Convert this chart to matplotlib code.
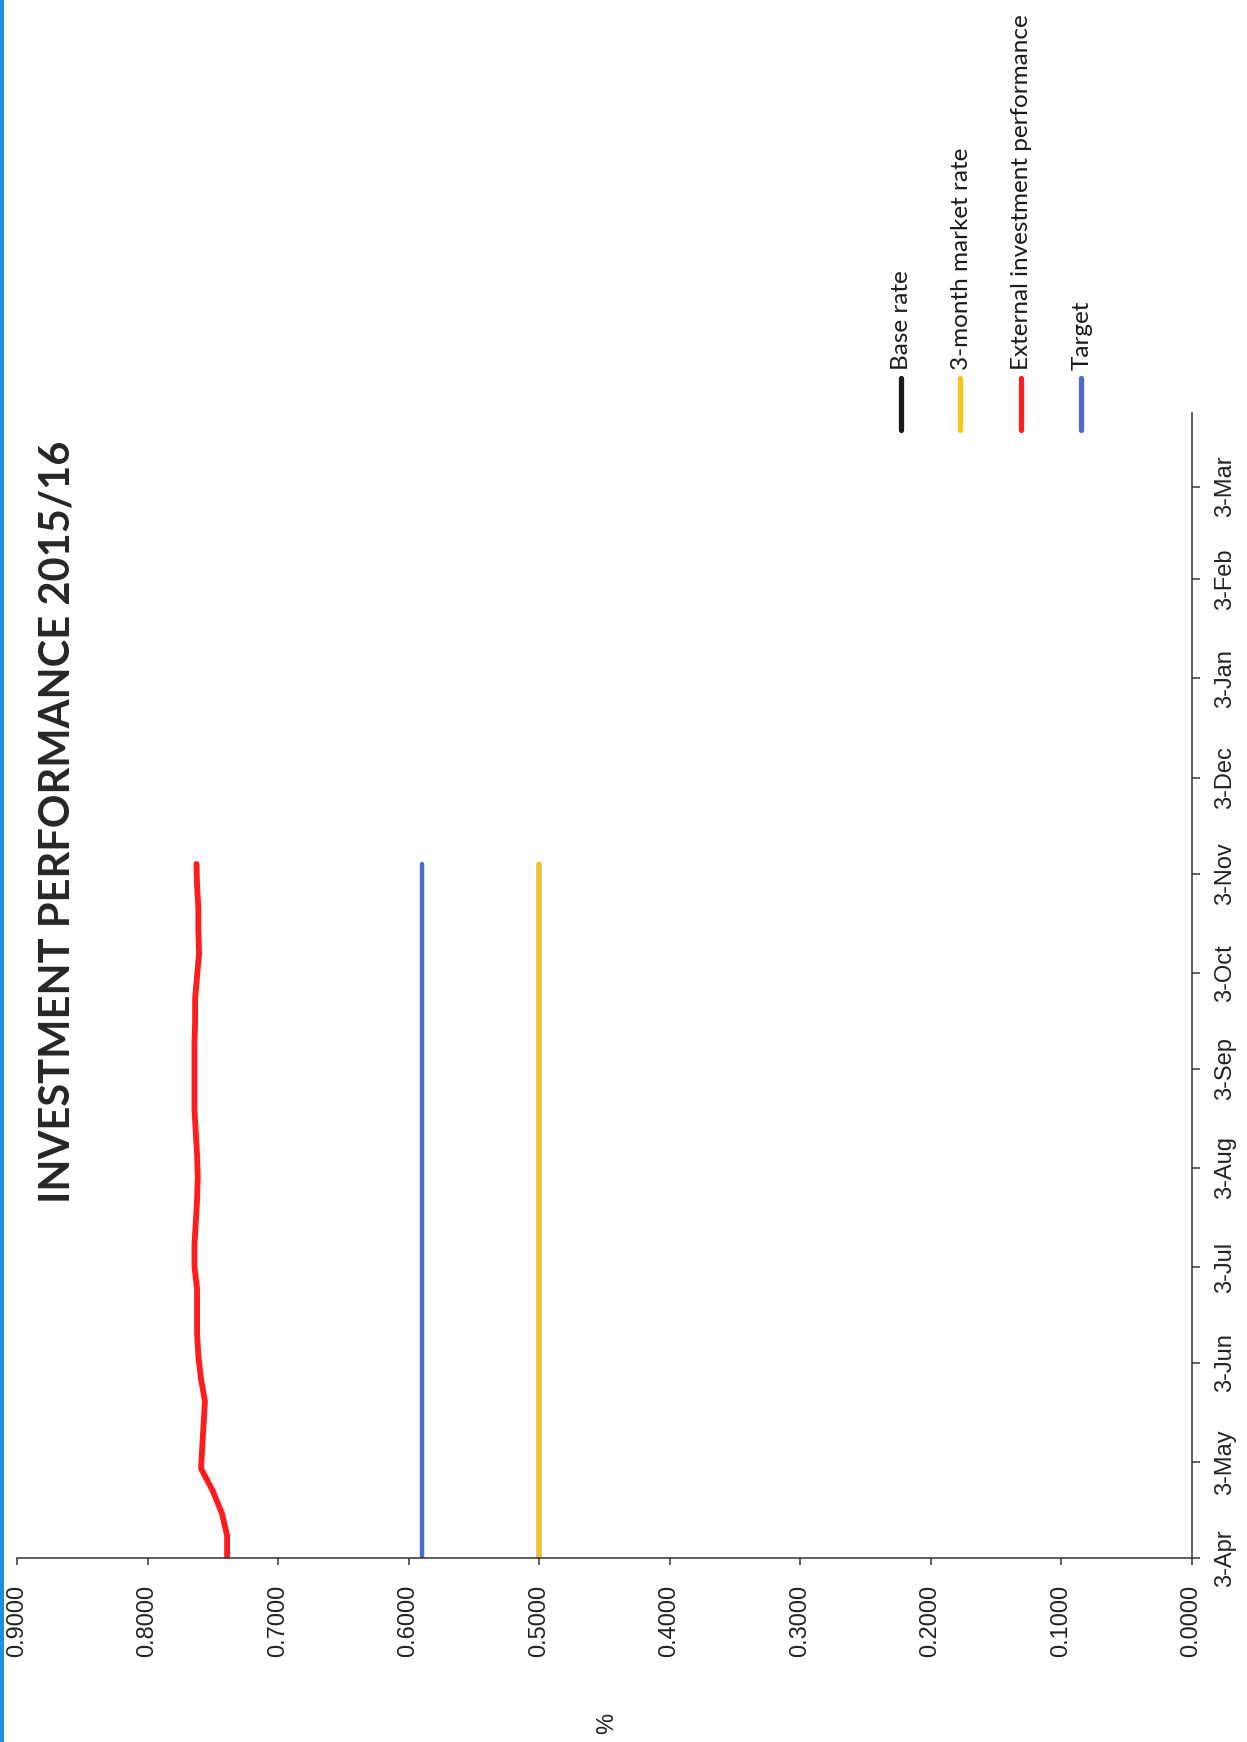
import matplotlib
matplotlib.use("Agg")
import matplotlib.pyplot as plt
import matplotlib.dates as mdates
from matplotlib.lines import Line2D
from matplotlib.patches import Rectangle
import pandas as pd

# Weekly readings, 3-Apr-2015 onwards
dates = pd.date_range("2015-04-03", periods=32, freq="7D")

external = [0.739, 0.739, 0.743, 0.750, 0.759, 0.758, 0.757, 0.756,
            0.759, 0.761, 0.762, 0.762, 0.762, 0.764, 0.764, 0.763,
            0.762, 0.7615, 0.762, 0.763, 0.764, 0.764, 0.764, 0.764,
            0.7635, 0.7635, 0.762, 0.7605, 0.761, 0.761, 0.762, 0.7625]
target = [0.59] * 32
market_3m = [0.50] * 32
base_rate = [0.50] * 32

series_names = ["Base rate", "3-month market rate",
                "External investment performance", "Target"]
series_colors = ["#1a1a1a", "#f7c614", "#ff1c1c", "#4a6ccc"]

tick_dates = pd.to_datetime(["2015-04-03", "2015-05-03", "2015-06-03", "2015-07-03",
                             "2015-08-03", "2015-09-03", "2015-10-03", "2015-11-03",
                             "2015-12-03", "2016-01-03", "2016-02-03", "2016-03-03"])
tick_labels = ["3-Apr", "3-May", "3-Jun", "3-Jul", "3-Aug", "3-Sep",
               "3-Oct", "3-Nov", "3-Dec", "3-Jan", "3-Feb", "3-Mar"]
value_ticks = [0.0, 0.1, 0.2, 0.3, 0.4, 0.5, 0.6, 0.7, 0.8, 0.9]

W, H = 1247, 1742


def fx(px):
    return px / W


def fy(py):
    return 1 - py / H


fig = plt.figure(figsize=(W / 100, H / 100), dpi=100)
fig.patch.set_facecolor("white")

# thin blue page border on the left edge
fig.add_artist(Rectangle((0, 0), fx(4), 1, transform=fig.transFigure,
                         color="#1e8fe0", lw=0))

# the chart is printed sideways: values run right->left, dates run bottom->top
ax = fig.add_axes([fx(17), fy(1558), fx(1191.5) - fx(17), fy(413) - fy(1558)])

series = [base_rate, market_3m, external, target]
for vals, col in zip(series, series_colors):
    lw = 4.2 if col == "#ff1c1c" else 3.2
    ax.plot(vals, mdates.date2num(dates), color=col, lw=lw,
            solid_capstyle="round", solid_joinstyle="round")

ax.set_xlim(0.9, 0.0)
ax.set_ylim(mdates.date2num(pd.Timestamp("2015-04-03")),
            mdates.date2num(pd.Timestamp("2016-03-26")))

for s in ["left", "top"]:
    ax.spines[s].set_visible(False)
for s in ["right", "bottom"]:
    ax.spines[s].set_color("#333333")
    ax.spines[s].set_linewidth(1.1)

ax.yaxis.tick_right()
ax.set_yticks(mdates.date2num(tick_dates))
ax.set_yticklabels(tick_labels, rotation=90, va="center", ha="left",
                   family="Liberation Sans", fontsize=17, color="#222222")
ax.tick_params(axis="y", direction="out", length=6, width=1.1,
               color="#333333", pad=10)

ax.set_xticks(value_ticks)
ax.set_xticklabels(["%.4f" % v for v in value_ticks], rotation=90,
                   va="top", ha="center", family="Liberation Sans",
                   fontsize=17, color="#222222")
ax.tick_params(axis="x", direction="out", length=5, width=1.1,
               color="#333333", pad=14)

# title, rotated with the page
fig.text(fx(58), fy(822), "INVESTMENT PERFORMANCE 2015/16", rotation=90,
         ha="center", va="center", family="Lato", fontweight="bold",
         fontsize=30, color="#262626")

# axis unit
fig.text(fx(607), fy(1723), "%", rotation=90, ha="center", va="center",
         family="Liberation Sans", fontsize=17, color="#222222")

# legend drawn by hand so it can sit sideways
legend_x = [901, 960, 1021, 1081]
for name, col, lx in zip(series_names, series_colors, legend_x):
    fig.add_artist(Line2D([fx(lx), fx(lx)], [fy(430), fy(378)],
                          transform=fig.transFigure, color=col, lw=3.8,
                          solid_capstyle="round"))
    fig.text(fx(lx + 1), fy(370), name, rotation=90, ha="center", va="bottom",
             family="Lato", fontsize=17.5, color="#1a1a1a")

fig.savefig("out.png", dpi=100)
